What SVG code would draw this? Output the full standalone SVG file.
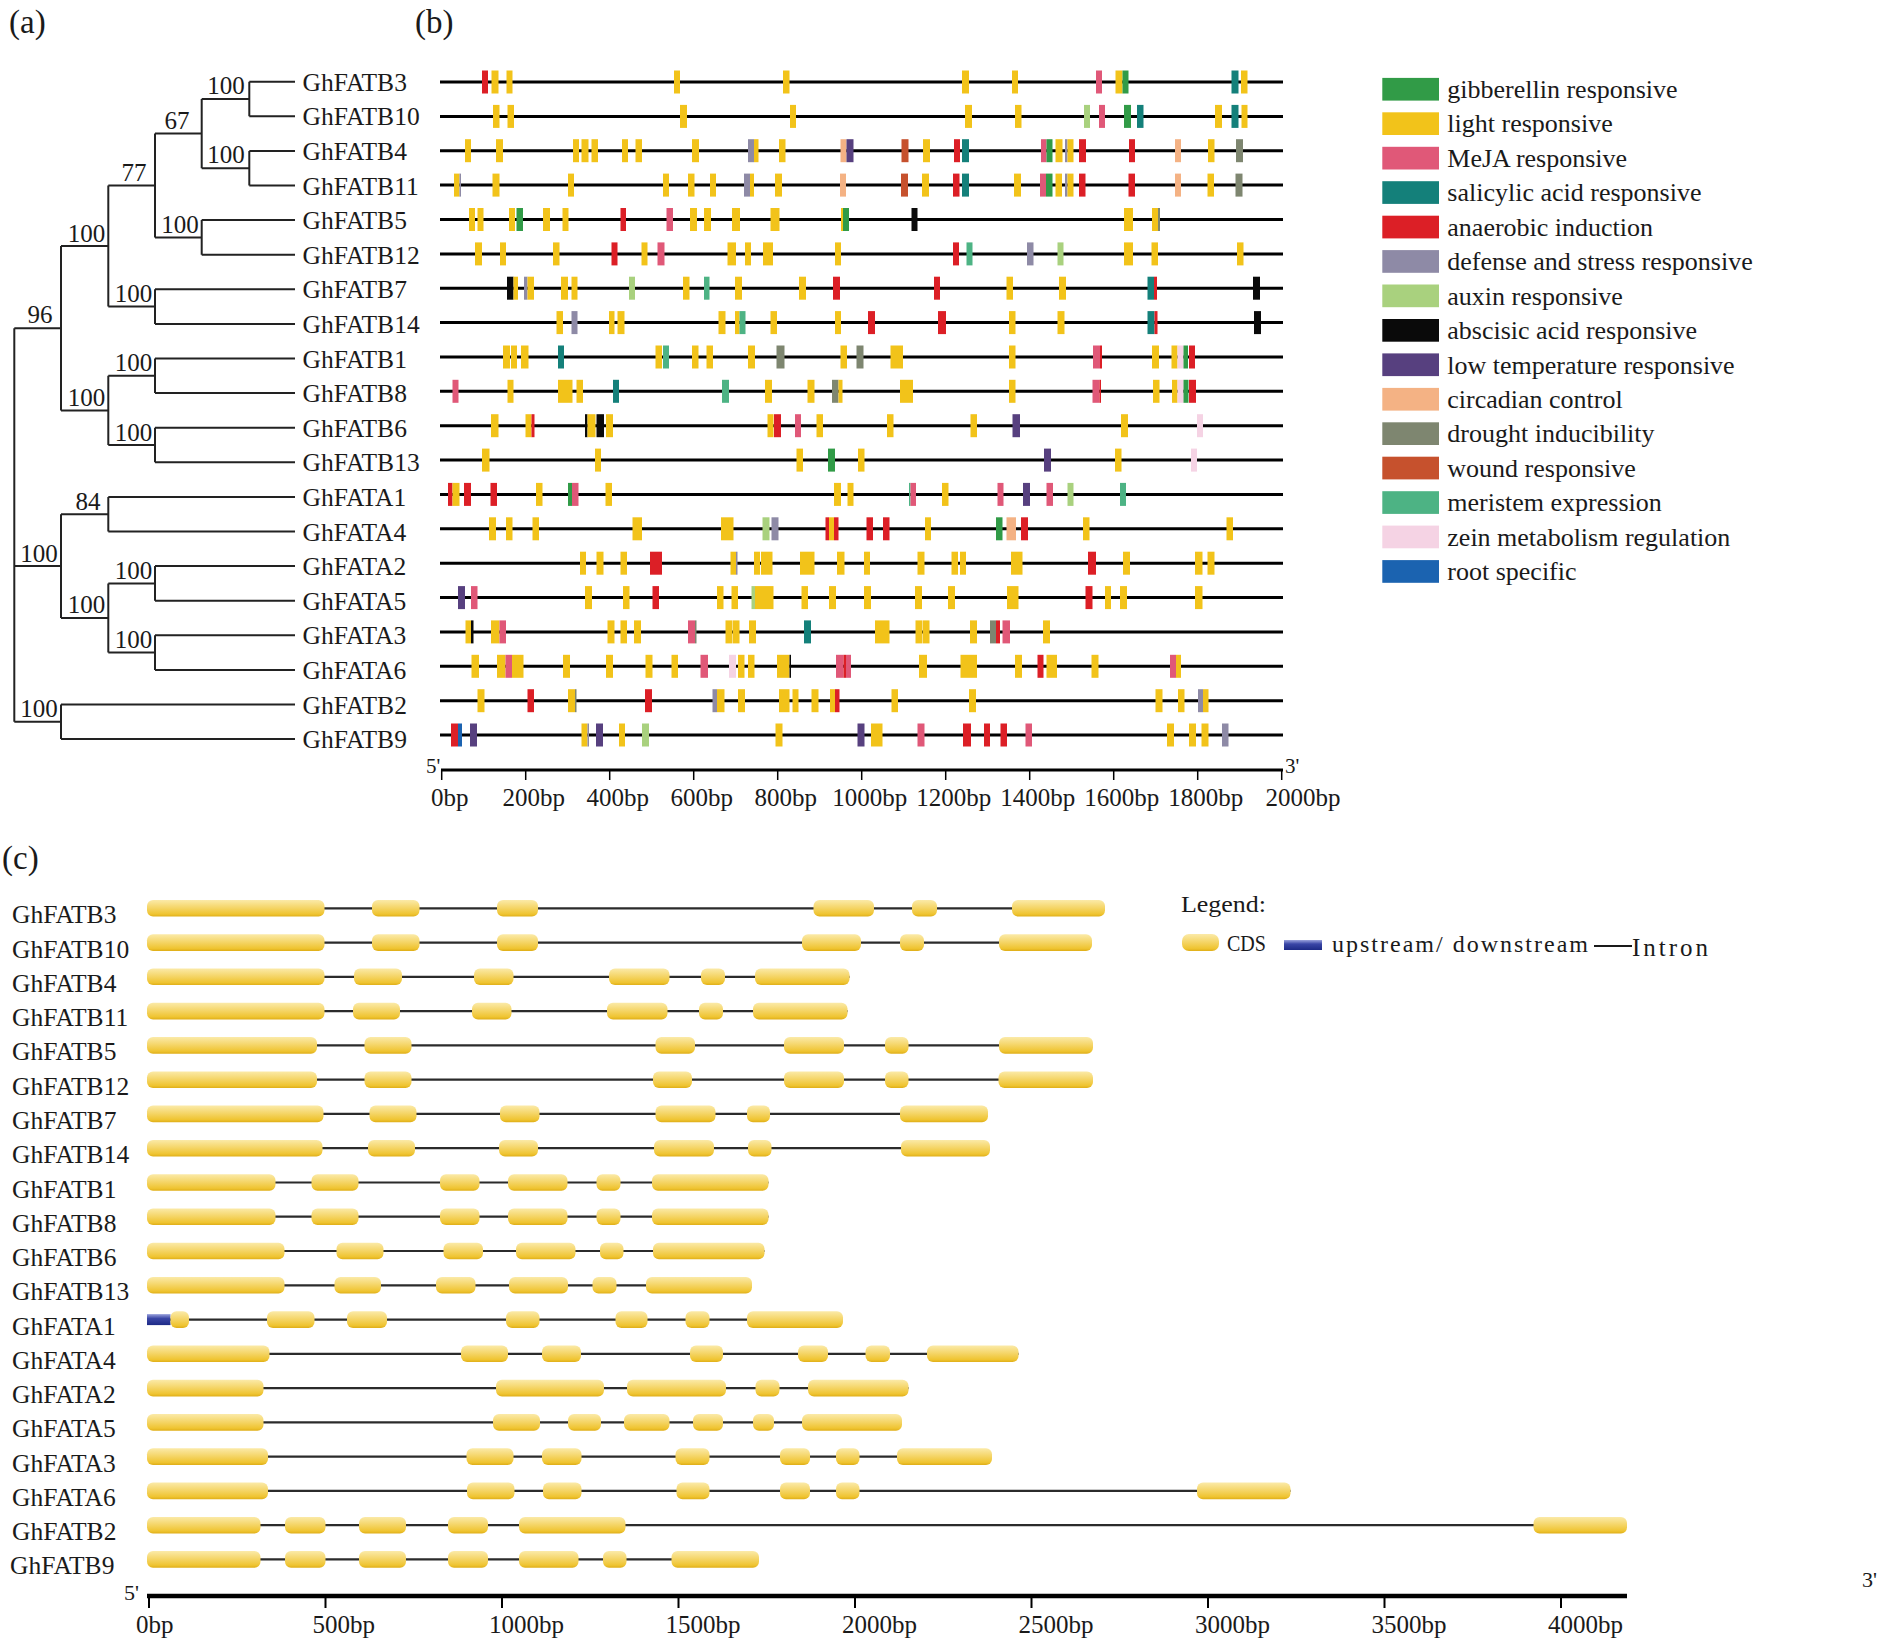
<svg xmlns="http://www.w3.org/2000/svg" width="1904" height="1641" viewBox="0 0 1904 1641">
<defs>
<linearGradient id="cds" x1="0" y1="0" x2="0" y2="1">
<stop offset="0" stop-color="#fbeaa8"/><stop offset="0.45" stop-color="#f5d66a"/><stop offset="0.85" stop-color="#efc431"/><stop offset="1" stop-color="#dfae18"/>
</linearGradient>
<linearGradient id="ups" x1="0" y1="0" x2="0" y2="1">
<stop offset="0" stop-color="#9aa2dc"/><stop offset="0.4" stop-color="#3a46a6"/><stop offset="1" stop-color="#1d2a86"/>
</linearGradient>
</defs>
<style>
text{font-family:"Liberation Serif","Times New Roman",serif;fill:#1a1a1a}
.pl{font-size:33px}
.lf{font-size:25.5px}
.bs{font-size:25px;text-anchor:middle}
.ax{font-size:25px}
.axm{font-size:25px;text-anchor:middle}
.tr{stroke:#222;stroke-width:2;fill:none}
.rl{stroke:#000;stroke-width:3}
.b rect{y:-11.5px;height:23px}
.l{fill:#f2c31a}.g{fill:#319b47}.m{fill:#e05878}.s{fill:#14807a}.a{fill:#dc1f26}.d{fill:#8e8aa6}.x{fill:#a9d17e}.k{fill:#0a0a0a}.t{fill:#57407f}.c{fill:#f4b284}.u{fill:#7e8670}.w{fill:#c6512d}.e{fill:#4db384}.z{fill:#f5d3e4}.r{fill:#1b63b0}
.lg{font-size:26px}
.sw{width:56.7px;height:22.7px}
.cd rect.y{fill:url(#cds);height:16.6px;y:-8.3px;rx:6px}
.il{stroke:#2b2b2b;stroke-width:2.2}
.ct{stroke:#000;stroke-width:2}
</style>

<text class="pl" x="9" y="33">(a)</text>
<text class="pl" x="415" y="33">(b)</text>
<text class="pl" x="2" y="869">(c)</text>

<!-- panel a: tree -->
<g id="tree">
<path class="tr" d="M249.3,81.7V116.3 M201.7,99H249.3 M249.3,150.9V185.5 M201.7,168.2H249.3 M201.7,99V168.2 M155,133.6H201.7 M201.7,220.1V254.7 M155,237.4H201.7 M155,133.6V237.4 M108.3,185.5H155 M155,289.3V323.9 M108.3,306.6H155 M108.3,185.5V306.6 M61,246H108.3 M155,358.5V393.1 M108.3,375.8H155 M155,427.7V462.3 M108.3,445H155 M108.3,375.8V445 M61,410.4H108.3 M61,246V410.4 M14.3,328.2H61 M108.3,496.9V531.5 M61,514.2H108.3 M155,566.1V600.7 M108.3,583.4H155 M155,635.3V669.9 M108.3,652.6H155 M108.3,583.4V652.6 M61,618H108.3 M61,514.2V618 M14.3,566.1H61 M61,704.5V739.1 M14.3,721.8H61 M14.3,328.2V721.8"/>
<path class="tr" d="M249.3,81.7H295 M249.3,116.3H295 M249.3,150.9H295 M249.3,185.5H295 M201.7,220.1H295 M201.7,254.7H295 M155,289.3H295 M155,323.9H295 M155,358.5H295 M155,393.1H295 M155,427.7H295 M155,462.3H295 M108.3,496.9H295 M108.3,531.5H295 M155,566.1H295 M155,600.7H295 M155,635.3H295 M155,669.9H295 M61,704.5H295 M61,739.1H295"/>
<text class="bs" x="226" y="94">100</text>
<text class="bs" x="226" y="163">100</text>
<text class="bs" x="177" y="128.5">67</text>
<text class="bs" x="180" y="232.5">100</text>
<text class="bs" x="134" y="180.5">77</text>
<text class="bs" x="133.5" y="301.5">100</text>
<text class="bs" x="86.5" y="241.5">100</text>
<text class="bs" x="133.5" y="370.5">100</text>
<text class="bs" x="133.5" y="440.5">100</text>
<text class="bs" x="86.5" y="405.5">100</text>
<text class="bs" x="40" y="323">96</text>
<text class="bs" x="88" y="509.5">84</text>
<text class="bs" x="133.5" y="578.5">100</text>
<text class="bs" x="133.5" y="647.5">100</text>
<text class="bs" x="86.5" y="613">100</text>
<text class="bs" x="39" y="561.5">100</text>
<text class="bs" x="39" y="717">100</text>
</g>
<g id="leaves">
<text class="lf" x="302.5" y="90.7">GhFATB3</text>
<text class="lf" x="302.5" y="125.3">GhFATB10</text>
<text class="lf" x="302.5" y="159.9">GhFATB4</text>
<text class="lf" x="302.5" y="194.5">GhFATB11</text>
<text class="lf" x="302.5" y="229.1">GhFATB5</text>
<text class="lf" x="302.5" y="263.7">GhFATB12</text>
<text class="lf" x="302.5" y="298.3">GhFATB7</text>
<text class="lf" x="302.5" y="332.9">GhFATB14</text>
<text class="lf" x="302.5" y="367.5">GhFATB1</text>
<text class="lf" x="302.5" y="402.1">GhFATB8</text>
<text class="lf" x="302.5" y="436.7">GhFATB6</text>
<text class="lf" x="302.5" y="471.3">GhFATB13</text>
<text class="lf" x="302.5" y="505.9">GhFATA1</text>
<text class="lf" x="302.5" y="540.5">GhFATA4</text>
<text class="lf" x="302.5" y="575.1">GhFATA2</text>
<text class="lf" x="302.5" y="609.7">GhFATA5</text>
<text class="lf" x="302.5" y="644.3">GhFATA3</text>
<text class="lf" x="302.5" y="678.9">GhFATA6</text>
<text class="lf" x="302.5" y="713.5">GhFATB2</text>
<text class="lf" x="302.5" y="748.1">GhFATB9</text>
</g>

<!-- panel b: promoter elements -->
<g id="b-GhFATB3" class="b" transform="translate(0,82)"><line class="rl" x1="440" x2="1283"/>
<rect class="a" x="482" width="6"/><rect class="l" x="491.5" width="7"/><rect class="l" x="506.5" width="6"/><rect class="l" x="674" width="6"/><rect class="l" x="783" width="6.5"/><rect class="l" x="962" width="7"/><rect class="l" x="1012" width="6"/><rect class="m" x="1096" width="6"/><rect class="l" x="1115.5" width="7"/><rect class="g" x="1122.5" width="6"/><rect class="s" x="1231.5" width="7"/><rect class="l" x="1241" width="6.5"/></g>
<g id="b-GhFATB10" class="b" transform="translate(0,116.4)"><line class="rl" x1="440" x2="1283"/>
<rect class="l" x="493" width="6.5"/><rect class="l" x="507.5" width="6.5"/><rect class="l" x="680" width="7"/><rect class="l" x="790" width="6"/><rect class="l" x="965" width="7"/><rect class="l" x="1015" width="6.5"/><rect class="x" x="1084" width="6"/><rect class="m" x="1099" width="6"/><rect class="g" x="1124" width="7"/><rect class="s" x="1137" width="6.5"/><rect class="l" x="1215" width="7"/><rect class="s" x="1231.5" width="7"/><rect class="l" x="1241.5" width="6"/></g>
<g id="b-GhFATB4" class="b" transform="translate(0,150.7)"><line class="rl" x1="440" x2="1283"/>
<rect class="l" x="465" width="6"/><rect class="l" x="496" width="7"/><rect class="l" x="573" width="6"/><rect class="l" x="581.5" width="7"/><rect class="l" x="591.5" width="6.5"/><rect class="l" x="622" width="6"/><rect class="l" x="635.5" width="6.5"/><rect class="l" x="692" width="7"/><rect class="d" x="748" width="6"/><rect class="l" x="754" width="4.5"/><rect class="l" x="779" width="6.5"/><rect class="c" x="840.5" width="6"/><rect class="t" x="846.5" width="7"/><rect class="w" x="901.5" width="7"/><rect class="l" x="923" width="7"/><rect class="a" x="954" width="6"/><rect class="s" x="962" width="7"/><rect class="m" x="1041" width="5.5"/><rect class="g" x="1046.5" width="6"/><rect class="l" x="1055.5" width="7"/><rect class="d" x="1065" width="2.5"/><rect class="l" x="1067.5" width="6"/><rect class="a" x="1079" width="7"/><rect class="a" x="1129" width="6"/><rect class="c" x="1175" width="6"/><rect class="l" x="1208" width="6.5"/><rect class="u" x="1236" width="7"/></g>
<g id="b-GhFATB11" class="b" transform="translate(0,185.1)"><line class="rl" x1="440" x2="1283"/>
<rect class="l" x="454" width="5.5"/><rect class="d" x="459.5" width="1.5"/><rect class="l" x="492.5" width="7"/><rect class="l" x="568" width="6"/><rect class="l" x="663" width="6"/><rect class="l" x="688" width="6.5"/><rect class="l" x="710" width="6"/><rect class="d" x="744" width="6"/><rect class="l" x="750" width="4"/><rect class="l" x="775" width="7"/><rect class="c" x="840" width="6"/><rect class="w" x="901" width="7"/><rect class="l" x="922" width="7"/><rect class="a" x="953" width="6.5"/><rect class="s" x="962" width="7"/><rect class="l" x="1014" width="7"/><rect class="m" x="1040" width="6"/><rect class="g" x="1046" width="6.5"/><rect class="l" x="1055.5" width="6.5"/><rect class="d" x="1065" width="2.5"/><rect class="l" x="1067.5" width="6"/><rect class="a" x="1079" width="6.5"/><rect class="a" x="1128.5" width="6.5"/><rect class="c" x="1175" width="6"/><rect class="l" x="1207.5" width="6.5"/><rect class="u" x="1235.5" width="7"/></g>
<g id="b-GhFATB5" class="b" transform="translate(0,219.5)"><line class="rl" x1="440" x2="1283"/>
<rect class="l" x="469" width="6"/><rect class="l" x="477.5" width="6"/><rect class="l" x="509" width="6"/><rect class="g" x="516.5" width="6.5"/><rect class="l" x="543" width="7"/><rect class="l" x="562.5" width="6"/><rect class="a" x="620.5" width="5.5"/><rect class="m" x="666.5" width="6.5"/><rect class="l" x="690" width="7"/><rect class="l" x="704" width="7"/><rect class="l" x="732" width="8"/><rect class="l" x="770.5" width="9"/><rect class="l" x="841" width="2"/><rect class="g" x="843" width="6"/><rect class="k" x="911.5" width="6"/><rect class="l" x="1124" width="9"/><rect class="l" x="1152" width="6"/><rect class="u" x="1158" width="2"/></g>
<g id="b-GhFATB12" class="b" transform="translate(0,253.9)"><line class="rl" x1="440" x2="1283"/>
<rect class="l" x="475" width="7"/><rect class="l" x="500" width="6"/><rect class="l" x="553" width="6.5"/><rect class="a" x="611.5" width="6"/><rect class="l" x="641.5" width="6"/><rect class="m" x="657.5" width="7"/><rect class="l" x="727.5" width="8.5"/><rect class="l" x="745" width="6"/><rect class="l" x="763" width="10"/><rect class="l" x="835" width="6"/><rect class="a" x="953" width="6"/><rect class="e" x="966.5" width="6"/><rect class="d" x="1027" width="6.5"/><rect class="x" x="1057.5" width="6"/><rect class="l" x="1124" width="9"/><rect class="l" x="1151.5" width="6.5"/><rect class="l" x="1237" width="6.5"/></g>
<g id="b-GhFATB7" class="b" transform="translate(0,288.2)"><line class="rl" x1="440" x2="1283"/>
<rect class="k" x="507" width="6.5"/><rect class="l" x="513.5" width="4.5"/><rect class="d" x="524" width="3.5"/><rect class="l" x="527.5" width="6.5"/><rect class="l" x="561" width="7"/><rect class="l" x="571.5" width="6"/><rect class="x" x="629" width="6"/><rect class="l" x="683" width="6.5"/><rect class="e" x="704" width="5.5"/><rect class="l" x="735" width="7"/><rect class="l" x="799" width="7"/><rect class="a" x="833" width="7"/><rect class="a" x="934" width="6"/><rect class="l" x="1006.5" width="6.5"/><rect class="l" x="1059" width="7"/><rect class="s" x="1147.5" width="6.5"/><rect class="a" x="1154" width="3"/><rect class="k" x="1253" width="7"/></g>
<g id="b-GhFATB14" class="b" transform="translate(0,322.6)"><line class="rl" x1="440" x2="1283"/>
<rect class="l" x="556.5" width="6.5"/><rect class="d" x="571.5" width="6"/><rect class="l" x="609" width="5.5"/><rect class="l" x="617.5" width="7"/><rect class="l" x="718.5" width="7"/><rect class="l" x="735" width="4.5"/><rect class="e" x="739.5" width="6"/><rect class="l" x="770.5" width="6.5"/><rect class="l" x="835" width="6"/><rect class="a" x="868" width="7"/><rect class="a" x="938" width="8"/><rect class="l" x="1009" width="6.5"/><rect class="l" x="1057.5" width="7"/><rect class="s" x="1147.5" width="7"/><rect class="a" x="1154.5" width="3"/><rect class="k" x="1254" width="7"/></g>
<g id="b-GhFATB1" class="b" transform="translate(0,357)"><line class="rl" x1="440" x2="1283"/>
<rect class="l" x="503" width="7"/><rect class="l" x="511" width="6"/><rect class="l" x="521" width="7.5"/><rect class="s" x="558" width="6"/><rect class="l" x="655.5" width="6.5"/><rect class="e" x="663" width="6"/><rect class="l" x="692" width="6.5"/><rect class="l" x="706.5" width="6.5"/><rect class="l" x="748" width="7"/><rect class="u" x="776.5" width="8"/><rect class="l" x="840.5" width="6.5"/><rect class="u" x="856.5" width="7"/><rect class="l" x="890.5" width="12.5"/><rect class="l" x="1009" width="6.5"/><rect class="m" x="1093" width="7"/><rect class="a" x="1100" width="2"/><rect class="l" x="1152" width="7"/><rect class="l" x="1171.5" width="6"/><rect class="z" x="1177.5" width="6"/><rect class="g" x="1183.5" width="4.5"/><rect class="a" x="1189" width="6"/></g>
<g id="b-GhFATB8" class="b" transform="translate(0,391.3)"><line class="rl" x1="440" x2="1283"/>
<rect class="m" x="452.5" width="6"/><rect class="l" x="507.5" width="6"/><rect class="l" x="558" width="14.5"/><rect class="l" x="576.5" width="6.5"/><rect class="s" x="613" width="6"/><rect class="e" x="722" width="7"/><rect class="l" x="765" width="7"/><rect class="l" x="807.5" width="7"/><rect class="u" x="832" width="6.5"/><rect class="l" x="838.5" width="4"/><rect class="l" x="900" width="13"/><rect class="l" x="1009" width="6.5"/><rect class="m" x="1092.5" width="7"/><rect class="a" x="1099.5" width="1.5"/><rect class="l" x="1153" width="6.5"/><rect class="l" x="1172" width="5.5"/><rect class="z" x="1177.5" width="6"/><rect class="g" x="1183.5" width="5"/><rect class="a" x="1189" width="7"/></g>
<g id="b-GhFATB6" class="b" transform="translate(0,425.7)"><line class="rl" x1="440" x2="1283"/>
<rect class="l" x="491" width="7.5"/><rect class="l" x="525.5" width="6"/><rect class="a" x="531.5" width="3"/><rect class="k" x="585" width="2.5"/><rect class="l" x="587.5" width="8"/><rect class="k" x="596.5" width="7.5"/><rect class="l" x="606" width="7"/><rect class="l" x="767.5" width="6"/><rect class="a" x="774" width="7"/><rect class="m" x="795" width="6"/><rect class="l" x="816.5" width="6.5"/><rect class="l" x="887" width="6.5"/><rect class="l" x="970.5" width="6.5"/><rect class="t" x="1012.5" width="7.5"/><rect class="l" x="1121" width="7"/><rect class="z" x="1197" width="6"/></g>
<g id="b-GhFATB13" class="b" transform="translate(0,460.1)"><line class="rl" x1="440" x2="1283"/>
<rect class="l" x="482" width="7.5"/><rect class="l" x="595" width="6"/><rect class="l" x="796.5" width="6.5"/><rect class="g" x="828" width="7"/><rect class="l" x="858" width="6.5"/><rect class="t" x="1044" width="7"/><rect class="l" x="1115" width="6.5"/><rect class="z" x="1191" width="6"/></g>
<g id="b-GhFATA1" class="b" transform="translate(0,494.4)"><line class="rl" x1="440" x2="1283"/>
<rect class="a" x="448" width="4.5"/><rect class="l" x="452.5" width="7"/><rect class="a" x="464" width="7"/><rect class="a" x="490.5" width="6.5"/><rect class="l" x="536" width="6.5"/><rect class="g" x="568" width="4"/><rect class="m" x="572" width="6.5"/><rect class="l" x="605.5" width="6.5"/><rect class="l" x="834" width="7"/><rect class="l" x="847.5" width="6"/><rect class="e" x="909" width="1.5"/><rect class="m" x="910.5" width="5.5"/><rect class="l" x="942" width="6.5"/><rect class="m" x="997.5" width="6"/><rect class="t" x="1023" width="7"/><rect class="m" x="1046.5" width="6.5"/><rect class="x" x="1067.5" width="6"/><rect class="e" x="1120" width="6"/></g>
<g id="b-GhFATA4" class="b" transform="translate(0,528.8)"><line class="rl" x1="440" x2="1283"/>
<rect class="l" x="489" width="7"/><rect class="l" x="506" width="6.5"/><rect class="l" x="532.5" width="6.5"/><rect class="l" x="632.5" width="9.5"/><rect class="l" x="721" width="12.5"/><rect class="x" x="762.5" width="7"/><rect class="d" x="771.5" width="7"/><rect class="a" x="825.5" width="3.5"/><rect class="l" x="829" width="5"/><rect class="a" x="834" width="4.5"/><rect class="a" x="866.5" width="6.5"/><rect class="a" x="883" width="6.5"/><rect class="l" x="925" width="6"/><rect class="g" x="996" width="6.5"/><rect class="c" x="1006.5" width="9.5"/><rect class="a" x="1021" width="7"/><rect class="l" x="1083" width="6.5"/><rect class="l" x="1226.5" width="6.5"/></g>
<g id="b-GhFATA2" class="b" transform="translate(0,563.2)"><line class="rl" x1="440" x2="1283"/>
<rect class="l" x="580" width="6"/><rect class="l" x="596.5" width="7"/><rect class="l" x="620.5" width="6.5"/><rect class="a" x="650" width="12"/><rect class="l" x="730.5" width="5.5"/><rect class="d" x="736" width="1.5"/><rect class="l" x="754" width="6"/><rect class="l" x="761" width="11.5"/><rect class="l" x="800" width="14.5"/><rect class="l" x="837" width="7.5"/><rect class="l" x="864" width="6"/><rect class="l" x="917.5" width="7"/><rect class="l" x="951.5" width="6.5"/><rect class="l" x="960" width="6"/><rect class="l" x="1011" width="11.5"/><rect class="a" x="1088" width="8"/><rect class="l" x="1123" width="7"/><rect class="l" x="1195" width="7.5"/><rect class="l" x="1207.5" width="7"/></g>
<g id="b-GhFATA5" class="b" transform="translate(0,597.6)"><line class="rl" x1="440" x2="1283"/>
<rect class="t" x="458" width="7"/><rect class="m" x="471" width="6.5"/><rect class="l" x="585" width="7"/><rect class="l" x="623" width="6.5"/><rect class="a" x="652.5" width="6.5"/><rect class="l" x="717" width="6.5"/><rect class="l" x="731.5" width="6.5"/><rect class="x" x="751.5" width="3.5"/><rect class="l" x="755" width="18.5"/><rect class="l" x="801.5" width="6.5"/><rect class="l" x="829" width="7"/><rect class="l" x="864" width="7"/><rect class="l" x="915" width="7"/><rect class="l" x="948" width="7"/><rect class="l" x="1007" width="11.5"/><rect class="a" x="1085.5" width="7"/><rect class="l" x="1105" width="6"/><rect class="l" x="1120" width="7"/><rect class="l" x="1195" width="7.5"/></g>
<g id="b-GhFATA3" class="b" transform="translate(0,631.9)"><line class="rl" x1="440" x2="1283"/>
<rect class="l" x="465.5" width="5.5"/><rect class="k" x="471" width="2.5"/><rect class="l" x="491" width="8.5"/><rect class="m" x="499.5" width="6.5"/><rect class="l" x="607.5" width="7"/><rect class="l" x="620.5" width="6.5"/><rect class="l" x="634" width="7"/><rect class="m" x="688" width="7"/><rect class="u" x="695" width="1.5"/><rect class="l" x="725.5" width="6.5"/><rect class="l" x="732.5" width="7"/><rect class="l" x="749" width="7"/><rect class="s" x="804" width="7"/><rect class="l" x="875" width="14.5"/><rect class="l" x="915.5" width="7"/><rect class="l" x="923" width="6.5"/><rect class="l" x="970" width="7"/><rect class="u" x="990" width="6"/><rect class="a" x="996" width="4"/><rect class="m" x="1002.5" width="7.5"/><rect class="l" x="1043" width="7"/></g>
<g id="b-GhFATA6" class="b" transform="translate(0,666.3)"><line class="rl" x1="440" x2="1283"/>
<rect class="l" x="471.5" width="7.5"/><rect class="l" x="497" width="8.5"/><rect class="m" x="505.5" width="6.5"/><rect class="l" x="512" width="11.5"/><rect class="l" x="563" width="7"/><rect class="l" x="606" width="7"/><rect class="l" x="645.5" width="7"/><rect class="l" x="671.5" width="6.5"/><rect class="m" x="700.5" width="7.5"/><rect class="z" x="729" width="7"/><rect class="l" x="738" width="6.5"/><rect class="l" x="748" width="6.5"/><rect class="l" x="777" width="12.5"/><rect class="k" x="789.5" width="1.5"/><rect class="m" x="836" width="7.5"/><rect class="a" x="843.5" width="2.5"/><rect class="m" x="846" width="5"/><rect class="l" x="919" width="8"/><rect class="l" x="960.5" width="16.5"/><rect class="l" x="1015" width="7"/><rect class="a" x="1037.5" width="6"/><rect class="l" x="1046.5" width="10.5"/><rect class="l" x="1091.5" width="7"/><rect class="m" x="1170" width="6"/><rect class="l" x="1176" width="5"/></g>
<g id="b-GhFATB2" class="b" transform="translate(0,700.7)"><line class="rl" x1="440" x2="1283"/>
<rect class="l" x="477.5" width="7"/><rect class="a" x="527.5" width="6.5"/><rect class="l" x="568" width="7"/><rect class="u" x="575" width="1.5"/><rect class="a" x="645" width="7"/><rect class="d" x="712.5" width="4.5"/><rect class="l" x="717" width="7.5"/><rect class="l" x="738" width="7"/><rect class="l" x="779" width="10.5"/><rect class="l" x="792.5" width="6"/><rect class="l" x="811.5" width="7"/><rect class="l" x="830" width="5"/><rect class="a" x="835" width="4.5"/><rect class="l" x="891.5" width="6.5"/><rect class="l" x="969" width="7"/><rect class="l" x="1155.5" width="7"/><rect class="l" x="1178" width="6.5"/><rect class="d" x="1198" width="5"/><rect class="l" x="1203" width="5.5"/></g>
<g id="b-GhFATB9" class="b" transform="translate(0,735)"><line class="rl" x1="440" x2="1283"/>
<rect class="a" x="451" width="7"/><rect class="r" x="458" width="4"/><rect class="t" x="470" width="7"/><rect class="l" x="581.5" width="6"/><rect class="d" x="587.5" width="1.5"/><rect class="t" x="596" width="7"/><rect class="l" x="619" width="6"/><rect class="x" x="642" width="7"/><rect class="l" x="775.5" width="7"/><rect class="t" x="857.5" width="7"/><rect class="l" x="871" width="11.5"/><rect class="m" x="917.5" width="7"/><rect class="a" x="963" width="8"/><rect class="a" x="984" width="6"/><rect class="a" x="1000.5" width="6.5"/><rect class="m" x="1025.5" width="6.5"/><rect class="l" x="1167" width="7"/><rect class="l" x="1189" width="7"/><rect class="l" x="1201.5" width="7"/><rect class="d" x="1222" width="6.5"/></g>

<g id="b-axis">
<line x1="441" y1="770" x2="1283" y2="770" stroke="#000" stroke-width="3"/>
<path d="M441.7,770v10 M525.7,770v10 M609.7,770v10 M693.7,770v10 M777.7,770v10 M861.7,770v10 M945.7,770v10 M1029.7,770v10 M1113.7,770v10 M1197.7,770v10 M1281.7,770v10" stroke="#000" stroke-width="1.5"/>
<text x="426" y="773" font-size="21">5'</text>
<text x="1285" y="773" font-size="21">3'</text>
<text class="axm" x="449.7" y="806">0bp</text>
<text class="axm" x="533.7" y="806">200bp</text>
<text class="axm" x="617.7" y="806">400bp</text>
<text class="axm" x="701.7" y="806">600bp</text>
<text class="axm" x="785.7" y="806">800bp</text>
<text class="axm" x="869.7" y="806">1000bp</text>
<text class="axm" x="953.7" y="806">1200bp</text>
<text class="axm" x="1037.7" y="806">1400bp</text>
<text class="axm" x="1121.7" y="806">1600bp</text>
<text class="axm" x="1205.7" y="806">1800bp</text>
<text class="axm" x="1303" y="806">2000bp</text>
</g>

<g id="b-legend">
<rect class="g sw" x="1382.3" y="77.9" width="56.7" height="22.7"/><text class="lg" x="1447.3" y="98">gibberellin responsive</text>
<rect class="l sw" x="1382.3" y="112.3" width="56.7" height="22.7"/><text class="lg" x="1447.3" y="132.4">light responsive</text>
<rect class="m sw" x="1382.3" y="146.8" width="56.7" height="22.7"/><text class="lg" x="1447.3" y="166.9">MeJA responsive</text>
<rect class="s sw" x="1382.3" y="181.2" width="56.7" height="22.7"/><text class="lg" x="1447.3" y="201.3">salicylic acid responsive</text>
<rect class="a sw" x="1382.3" y="215.7" width="56.7" height="22.7"/><text class="lg" x="1447.3" y="235.8">anaerobic induction</text>
<rect class="d sw" x="1382.3" y="250.1" width="56.7" height="22.7"/><text class="lg" x="1447.3" y="270.2">defense and stress responsive</text>
<rect class="x sw" x="1382.3" y="284.5" width="56.7" height="22.7"/><text class="lg" x="1447.3" y="304.6">auxin responsive</text>
<rect class="k sw" x="1382.3" y="319" width="56.7" height="22.7"/><text class="lg" x="1447.3" y="339.1">abscisic acid responsive</text>
<rect class="t sw" x="1382.3" y="353.4" width="56.7" height="22.7"/><text class="lg" x="1447.3" y="373.5">low temperature responsive</text>
<rect class="c sw" x="1382.3" y="387.9" width="56.7" height="22.7"/><text class="lg" x="1447.3" y="408">circadian control</text>
<rect class="u sw" x="1382.3" y="422.3" width="56.7" height="22.7"/><text class="lg" x="1447.3" y="442.4">drought inducibility</text>
<rect class="w sw" x="1382.3" y="456.7" width="56.7" height="22.7"/><text class="lg" x="1447.3" y="476.8">wound responsive</text>
<rect class="e sw" x="1382.3" y="491.2" width="56.7" height="22.7"/><text class="lg" x="1447.3" y="511.3">meristem expression</text>
<rect class="z sw" x="1382.3" y="525.6" width="56.7" height="22.7"/><text class="lg" x="1447.3" y="545.7">zein metabolism regulation</text>
<rect class="r sw" x="1382.3" y="560.1" width="56.7" height="22.7"/><text class="lg" x="1447.3" y="580.2">root specific</text>
</g>

<!-- panel c: gene structures -->
<g id="c-GhFATB3" class="cd" transform="translate(0,908.3)"><text class="lf" x="12" y="15">GhFATB3</text><line class="il" x1="147" x2="1105"/>
<rect class="y" x="147" width="177.5"/><rect class="y" x="372" width="47.5"/><rect class="y" x="497" width="41"/><rect class="y" x="813.5" width="60.5"/><rect class="y" x="912" width="25"/><rect class="y" x="1012" width="93"/></g>
<g id="c-GhFATB10" class="cd" transform="translate(0,942.6)"><text class="lf" x="12" y="15">GhFATB10</text><line class="il" x1="147" x2="1092"/>
<rect class="y" x="147" width="177.5"/><rect class="y" x="372" width="47.5"/><rect class="y" x="497" width="41"/><rect class="y" x="802" width="59"/><rect class="y" x="900" width="24"/><rect class="y" x="999" width="93"/></g>
<g id="c-GhFATB4" class="cd" transform="translate(0,976.8)"><text class="lf" x="12" y="15">GhFATB4</text><line class="il" x1="147" x2="849.5"/>
<rect class="y" x="147" width="177.5"/><rect class="y" x="354" width="48"/><rect class="y" x="474" width="39.5"/><rect class="y" x="609" width="60.5"/><rect class="y" x="701" width="24"/><rect class="y" x="755" width="94.5"/></g>
<g id="c-GhFATB11" class="cd" transform="translate(0,1011.1)"><text class="lf" x="12" y="15">GhFATB11</text><line class="il" x1="147" x2="847.5"/>
<rect class="y" x="147" width="177.5"/><rect class="y" x="353" width="47"/><rect class="y" x="472" width="39.5"/><rect class="y" x="607" width="60.5"/><rect class="y" x="699" width="24"/><rect class="y" x="753" width="94.5"/></g>
<g id="c-GhFATB5" class="cd" transform="translate(0,1045.4)"><text class="lf" x="12" y="15">GhFATB5</text><line class="il" x1="147" x2="1093"/>
<rect class="y" x="147" width="170"/><rect class="y" x="364.5" width="47"/><rect class="y" x="655.5" width="39.5"/><rect class="y" x="784" width="60"/><rect class="y" x="885" width="23.5"/><rect class="y" x="999" width="94"/></g>
<g id="c-GhFATB12" class="cd" transform="translate(0,1079.7)"><text class="lf" x="12" y="15">GhFATB12</text><line class="il" x1="147" x2="1093"/>
<rect class="y" x="147" width="170"/><rect class="y" x="364.5" width="47"/><rect class="y" x="653" width="39"/><rect class="y" x="784" width="60"/><rect class="y" x="885" width="23.5"/><rect class="y" x="998.5" width="94.5"/></g>
<g id="c-GhFATB7" class="cd" transform="translate(0,1113.9)"><text class="lf" x="12" y="15">GhFATB7</text><line class="il" x1="147" x2="988"/>
<rect class="y" x="147" width="176.5"/><rect class="y" x="369.5" width="47"/><rect class="y" x="500" width="39.5"/><rect class="y" x="655.5" width="60"/><rect class="y" x="747" width="23"/><rect class="y" x="900" width="88"/></g>
<g id="c-GhFATB14" class="cd" transform="translate(0,1148.2)"><text class="lf" x="12" y="15">GhFATB14</text><line class="il" x1="147" x2="990"/>
<rect class="y" x="147" width="175.5"/><rect class="y" x="368" width="47"/><rect class="y" x="499" width="39"/><rect class="y" x="654" width="60"/><rect class="y" x="748" width="23.5"/><rect class="y" x="901" width="89"/></g>
<g id="c-GhFATB1" class="cd" transform="translate(0,1182.5)"><text class="lf" x="12" y="15">GhFATB1</text><line class="il" x1="147" x2="768.5"/>
<rect class="y" x="147" width="128.5"/><rect class="y" x="311.5" width="47"/><rect class="y" x="440" width="39.5"/><rect class="y" x="508" width="59.5"/><rect class="y" x="596.5" width="24"/><rect class="y" x="652" width="116.5"/></g>
<g id="c-GhFATB8" class="cd" transform="translate(0,1216.7)"><text class="lf" x="12" y="15">GhFATB8</text><line class="il" x1="147" x2="768.5"/>
<rect class="y" x="147" width="128.5"/><rect class="y" x="311.5" width="47"/><rect class="y" x="440" width="39.5"/><rect class="y" x="508" width="59.5"/><rect class="y" x="596.5" width="24"/><rect class="y" x="652" width="116.5"/></g>
<g id="c-GhFATB6" class="cd" transform="translate(0,1251)"><text class="lf" x="12" y="15">GhFATB6</text><line class="il" x1="147" x2="764.5"/>
<rect class="y" x="147" width="137.5"/><rect class="y" x="336.5" width="47"/><rect class="y" x="443.5" width="39.5"/><rect class="y" x="516" width="59.5"/><rect class="y" x="600" width="23.5"/><rect class="y" x="653" width="111.5"/></g>
<g id="c-GhFATB13" class="cd" transform="translate(0,1285.3)"><text class="lf" x="12" y="15">GhFATB13</text><line class="il" x1="147" x2="752"/>
<rect class="y" x="147" width="137.5"/><rect class="y" x="334.5" width="46.5"/><rect class="y" x="436" width="39.5"/><rect class="y" x="509" width="59"/><rect class="y" x="592.5" width="24"/><rect class="y" x="646" width="106"/></g>
<g id="c-GhFATA1" class="cd" transform="translate(0,1319.6)"><text class="lf" x="12" y="15">GhFATA1</text><line class="il" x1="160" x2="843"/>
<rect x="147" y="-5.5" width="23.5" height="11" fill="url(#ups)"/>
<rect class="y" x="170.5" width="18.5"/><rect class="y" x="267" width="47.5"/><rect class="y" x="347" width="40"/><rect class="y" x="506" width="33.5"/><rect class="y" x="615.5" width="32"/><rect class="y" x="685.5" width="24"/><rect class="y" x="747" width="96"/></g>
<g id="c-GhFATA4" class="cd" transform="translate(0,1353.8)"><text class="lf" x="12" y="15">GhFATA4</text><line class="il" x1="147" x2="1018.5"/>
<rect class="y" x="147" width="122.5"/><rect class="y" x="461" width="47"/><rect class="y" x="542" width="39"/><rect class="y" x="690" width="33"/><rect class="y" x="798" width="30"/><rect class="y" x="865.5" width="24.5"/><rect class="y" x="927" width="91.5"/></g>
<g id="c-GhFATA2" class="cd" transform="translate(0,1388.1)"><text class="lf" x="12" y="15">GhFATA2</text><line class="il" x1="147" x2="908.5"/>
<rect class="y" x="147" width="116.5"/><rect class="y" x="496" width="108"/><rect class="y" x="627" width="99"/><rect class="y" x="755.5" width="24"/><rect class="y" x="808" width="100.5"/></g>
<g id="c-GhFATA5" class="cd" transform="translate(0,1422.4)"><text class="lf" x="12" y="15">GhFATA5</text><line class="il" x1="147" x2="902"/>
<rect class="y" x="147" width="116.5"/><rect class="y" x="493" width="47"/><rect class="y" x="568" width="33"/><rect class="y" x="624" width="45.5"/><rect class="y" x="693" width="30"/><rect class="y" x="753" width="21"/><rect class="y" x="802" width="100"/></g>
<g id="c-GhFATA3" class="cd" transform="translate(0,1456.6)"><text class="lf" x="12" y="15">GhFATA3</text><line class="il" x1="147" x2="992"/>
<rect class="y" x="147" width="121"/><rect class="y" x="466.5" width="47"/><rect class="y" x="542" width="39.5"/><rect class="y" x="675.5" width="34"/><rect class="y" x="780" width="30"/><rect class="y" x="836" width="23.5"/><rect class="y" x="897" width="95"/></g>
<g id="c-GhFATA6" class="cd" transform="translate(0,1490.9)"><text class="lf" x="12" y="15">GhFATA6</text><line class="il" x1="147" x2="1290.5"/>
<rect class="y" x="147" width="121"/><rect class="y" x="467" width="47.5"/><rect class="y" x="543" width="38.5"/><rect class="y" x="676.5" width="33"/><rect class="y" x="780" width="30"/><rect class="y" x="836" width="23.5"/><rect class="y" x="1197" width="93.5"/></g>
<g id="c-GhFATB2" class="cd" transform="translate(0,1525.2)"><text class="lf" x="12" y="15">GhFATB2</text><line class="il" x1="147" x2="1627"/>
<rect class="y" x="147" width="113.5"/><rect class="y" x="285" width="40.5"/><rect class="y" x="359" width="47"/><rect class="y" x="448" width="40"/><rect class="y" x="519" width="106.5"/><rect class="y" x="1533.5" width="93.5"/></g>
<g id="c-GhFATB9" class="cd" transform="translate(0,1559.4)"><text class="lf" x="10" y="15">GhFATB9</text><line class="il" x1="147" x2="759"/>
<rect class="y" x="147" width="113.5"/><rect class="y" x="285" width="40.5"/><rect class="y" x="359" width="47"/><rect class="y" x="448" width="40"/><rect class="y" x="519" width="59.5"/><rect class="y" x="603" width="23.5"/><rect class="y" x="671.5" width="87.5"/></g>

<g id="c-axis">
<line x1="147" y1="1596" x2="1627" y2="1596" stroke="#000" stroke-width="4.5"/>
<path class="ct" d="M149,1598v10 M325.5,1598v10 M502,1598v10 M678.5,1598v10 M855,1598v10 M1031.5,1598v10 M1208,1598v10 M1384.5,1598v10 M1561,1598v10"/>
<text x="124" y="1600" font-size="22">5'</text>
<text x="1862" y="1587" font-size="22">3'</text>
<text class="ax" x="136" y="1633">0bp</text>
<text class="ax" x="312.5" y="1633">500bp</text>
<text class="ax" x="489" y="1633">1000bp</text>
<text class="ax" x="665.5" y="1633">1500bp</text>
<text class="ax" x="842" y="1633">2000bp</text>
<text class="ax" x="1018.5" y="1633">2500bp</text>
<text class="ax" x="1195" y="1633">3000bp</text>
<text class="ax" x="1371.5" y="1633">3500bp</text>
<text class="ax" x="1548" y="1633">4000bp</text>
</g>

<g id="c-legend">
<text x="1181" y="912" font-size="24" textLength="85" lengthAdjust="spacingAndGlyphs">Legend:</text>
<rect x="1182" y="934" width="37" height="17" rx="7" fill="url(#cds)"/>
<text x="1227" y="951" font-size="24" textLength="39" lengthAdjust="spacingAndGlyphs">CDS</text>
<rect x="1284" y="940" width="38" height="10" fill="url(#ups)"/>
<text x="1332" y="952" font-size="24" textLength="256" lengthAdjust="spacing">upstream/ downstream</text>
<line x1="1594" y1="946" x2="1632" y2="946" stroke="#1a1a1a" stroke-width="1.8"/>
<text x="1632" y="956" font-size="25" textLength="76" lengthAdjust="spacing">Intron</text>
</g>
</svg>
